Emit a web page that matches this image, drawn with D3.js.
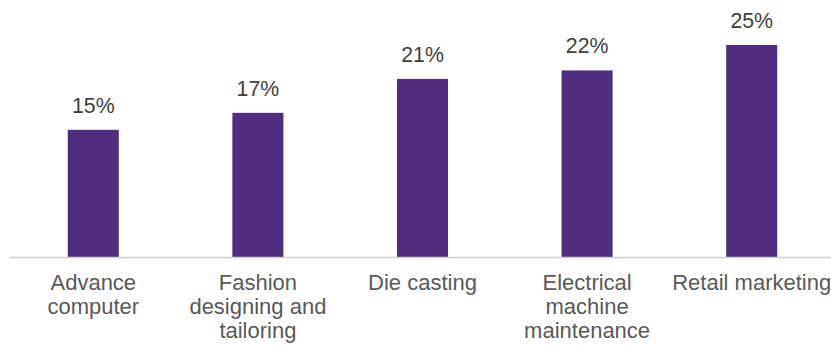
<!DOCTYPE html>
<html>
<head>
<meta charset="utf-8">
<script src="https://cdn.jsdelivr.net/npm/d3@7"></script>
<style>
  html, body { margin: 0; padding: 0; background: #fff; }
  svg { display: block; font-family: "Liberation Sans", Arial, sans-serif; }
</style>
</head>
<body>
<svg id="chart" width="831" height="347"></svg>
<script>
// Share of trainees by trade
const categories = [
  "Advance computer",
  "Fashion designing and tailoring",
  "Die casting",
  "Electrical machine maintenance",
  "Retail marketing"
];
const labelLines = [
  ["Advance", "computer"],
  ["Fashion", "designing and", "tailoring"],
  ["Die casting"],
  ["Electrical", "machine", "maintenance"],
  ["Retail marketing"]
];
const values = [15, 17, 21, 22, 25];

const svg = d3.select("#chart");
const baseY = 257;

const x = d3.scaleBand()
  .domain(categories)
  .range([11, 834])
  .paddingInner(0.69)
  .paddingOuter(0.345);

const y = d3.scaleLinear()
  .domain([0, 25])
  .range([baseY, 45]);

// bars
svg.append("g")
  .selectAll("rect")
  .data(values)
  .join("rect")
  .attr("x", (d, i) => x(categories[i]))
  .attr("y", d => y(d))
  .attr("width", x.bandwidth())
  .attr("height", d => y(0) - y(d))
  .attr("fill", "#4f2d7f");

// value labels
svg.append("g")
  .selectAll("text")
  .data(values)
  .join("text")
  .attr("x", (d, i) => x(categories[i]) + x.bandwidth() / 2)
  .attr("y", d => y(d) - 17)
  .attr("text-anchor", "middle")
  .attr("font-size", "21.3px")
  .attr("fill", "#404040")
  .text(d => d + "%");

// category axis
const axis = svg.append("g")
  .attr("transform", `translate(0,${baseY + 0.5})`)
  .call(d3.axisBottom(x).tickSize(0).tickFormat(""));
axis.select(".domain")
  .attr("d", "M10,0H831")
  .attr("stroke", "#d0d0d0")
  .attr("stroke-width", 1.3);

const ticks = axis.selectAll(".tick");
ticks.select("text").remove();
ticks.append("text")
  .attr("text-anchor", "middle")
  .attr("font-size", "22px")
  .attr("fill", "#595959")
  .selectAll("tspan")
  .data(d => labelLines[categories.indexOf(d)])
  .join("tspan")
  .attr("x", 0)
  .attr("y", (d, i) => 32 + i * 24)
  .text(d => d);
</script>
</body>
</html>
